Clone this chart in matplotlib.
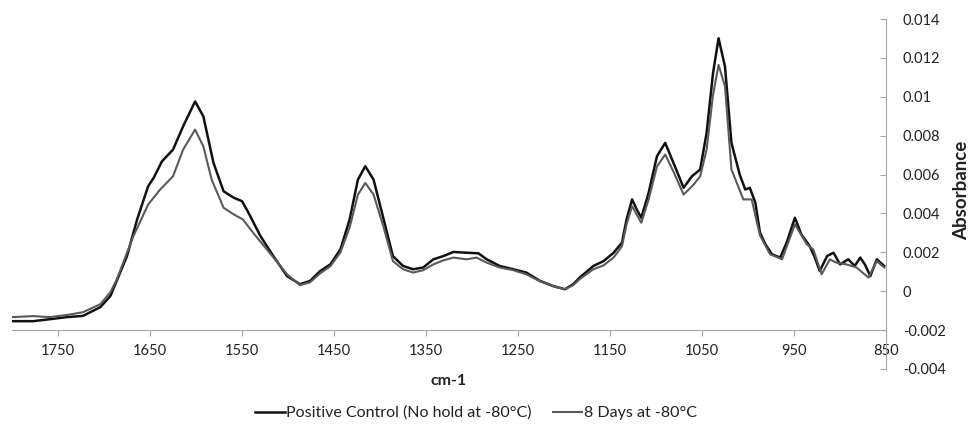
import numpy as np
import matplotlib.pyplot as plt

plt.rcParams['font.family'] = ['Lato', 'DejaVu Sans']

# wavenumber (cm-1) and absorbance
wn_ctrl = [1799, 1777, 1759, 1740, 1723, 1704, 1693, 1675, 1664, 1652, 1646, 1637,
           1625, 1614, 1601, 1592, 1581, 1570, 1559, 1550, 1543, 1530, 1516, 1501,
           1487, 1476, 1465, 1454, 1443, 1433, 1424, 1416, 1407, 1396, 1386, 1375,
           1364, 1353, 1342, 1331, 1320, 1306, 1293, 1284, 1270, 1255, 1241, 1226,
           1212, 1199, 1190, 1183, 1168, 1157, 1146, 1137, 1132, 1126, 1121, 1116,
           1108, 1099, 1090, 1081, 1070, 1061, 1052, 1045, 1038, 1032, 1025, 1018,
           1009, 1003, 998, 992, 987, 981, 974, 965, 958, 949, 942, 933, 928, 922,
           914, 907, 900, 891, 884, 878, 873, 867, 860, 852]
abs_ctrl = [-0.00154, -0.00154, -0.00144, -0.00133, -0.00127, -0.00082, -0.00024,
            0.00181, 0.00369, 0.00540, 0.00583, 0.00668, 0.00728, 0.00848, 0.00976,
            0.00899, 0.00660, 0.00514, 0.00481, 0.00463, 0.00404, 0.00284, 0.00181,
            0.00078, 0.00036, 0.00053, 0.00104, 0.00138, 0.00215, 0.00369, 0.00574,
            0.00643, 0.00574, 0.00369, 0.00181, 0.00130, 0.00113, 0.00122, 0.00164,
            0.00181, 0.00202, 0.00198, 0.00195, 0.00164, 0.00130, 0.00113, 0.00096,
            0.00053, 0.00027, 0.00010, 0.00036, 0.00070, 0.00130, 0.00155, 0.00198,
            0.00250, 0.00369, 0.00472, 0.00421, 0.00378, 0.00506, 0.00694, 0.00763,
            0.00660, 0.00532, 0.00591, 0.00626, 0.00814, 0.01122, 0.01301, 0.01155,
            0.00763, 0.00600, 0.00523, 0.00532, 0.00455, 0.00301, 0.00241, 0.00190,
            0.00173, 0.00250, 0.00378, 0.00292, 0.00232, 0.00181, 0.00104, 0.00181,
            0.00198, 0.00138, 0.00164, 0.00130, 0.00173, 0.00138, 0.00078, 0.00164,
            0.00130]

wn_8d = [1799, 1777, 1759, 1740, 1723, 1704, 1693, 1686, 1668, 1652, 1639, 1625,
         1614, 1601, 1592, 1583, 1570, 1559, 1549, 1538, 1523, 1501, 1487, 1476,
         1465, 1454, 1443, 1433, 1424, 1416, 1407, 1396, 1386, 1375, 1364, 1353,
         1342, 1331, 1320, 1306, 1295, 1284, 1270, 1255, 1241, 1226, 1212, 1199,
         1190, 1183, 1168, 1157, 1146, 1137, 1132, 1126, 1121, 1116, 1108, 1099,
         1090, 1081, 1070, 1059, 1052, 1045, 1038, 1032, 1025, 1018, 1005, 996,
         987, 976, 963, 949, 936, 929, 920, 911, 904, 893, 882, 869, 860, 852]
abs_8d = [-0.00133, -0.00128, -0.00133, -0.00122, -0.00108, -0.00067, -0.00005,
          0.00062, 0.00284, 0.00446, 0.00523, 0.00591, 0.00728, 0.00831, 0.00745,
          0.00574, 0.00429, 0.00395, 0.00369, 0.00301, 0.00215, 0.00087, 0.00031,
          0.00046, 0.00092, 0.00128, 0.00200, 0.00328, 0.00497, 0.00557, 0.00497,
          0.00328, 0.00155, 0.00113, 0.00096, 0.00108, 0.00138, 0.00159, 0.00173,
          0.00164, 0.00173, 0.00147, 0.00122, 0.00108, 0.00087, 0.00051, 0.00026,
          0.00010, 0.00031, 0.00062, 0.00113, 0.00133, 0.00174, 0.00231, 0.00344,
          0.00437, 0.00395, 0.00352, 0.00472, 0.00641, 0.00703, 0.00615, 0.00497,
          0.00549, 0.00591, 0.00728, 0.01010, 0.01164, 0.01053, 0.00626, 0.00472,
          0.00472, 0.00287, 0.00190, 0.00164, 0.00344, 0.00241, 0.00215, 0.00087,
          0.00164, 0.00147, 0.00138, 0.00122, 0.00070, 0.00155, 0.00122]

labels = ['Positive Control (No hold at -80°C)', '8 Days at -80°C']
x_ticks = [1750, 1650, 1550, 1450, 1350, 1250, 1150, 1050, 950, 850]
y_ticks = [-0.004, -0.002, 0, 0.002, 0.004, 0.006, 0.008, 0.01, 0.012, 0.014]

fig = plt.figure(figsize=(9.72, 4.26), dpi=100)
ax = fig.add_axes([12/972, 57/426, 874/972, 350/426])

ax.plot(wn_ctrl, abs_ctrl, color='#111111', lw=1.8, label=labels[0])
ax.plot(wn_8d, abs_8d, color='#5a5a5a', lw=1.5, label=labels[1])

ax.set_xlim(1800, 850)
ax.set_ylim(-0.004, 0.014)

axis_col = '#a6a6a6'
for s in ['left', 'top']:
    ax.spines[s].set_visible(False)
ax.spines['bottom'].set_position(('data', -0.002))
ax.spines['bottom'].set_color(axis_col)
ax.spines['right'].set_color(axis_col)

ax.set_xticks(x_ticks)
ax.set_xticklabels([str(v) for v in x_ticks])
ax.yaxis.tick_right()
ax.set_yticks(y_ticks)
ax.set_yticklabels([f'{v:g}' for v in y_ticks])

ax.tick_params(axis='x', direction='out', length=4, color=axis_col, labelsize=10.5,
               labelcolor='#222222', pad=6)
ax.tick_params(axis='y', direction='in', length=4, color=axis_col, labelsize=10.5,
               labelcolor='#222222', pad=12)

fig.text(449/972, 1 - 381/426, 'cm-1', ha='center', va='center',
         fontsize=11.5, fontweight='bold', color='#222222')
fig.text(962/972, 1 - 190/426, 'Absorbance', ha='center', va='center',
         rotation=90, fontsize=13.5, fontweight='bold', color='#222222')

fig.legend(loc='center', bbox_to_anchor=(476/972, 1 - 413/426), ncol=2,
           frameon=False, fontsize=11.5, handlelength=1.85, handletextpad=0.1,
           columnspacing=1.3, labelcolor='#222222', borderpad=0)

plt.savefig('out.png', dpi=100)
